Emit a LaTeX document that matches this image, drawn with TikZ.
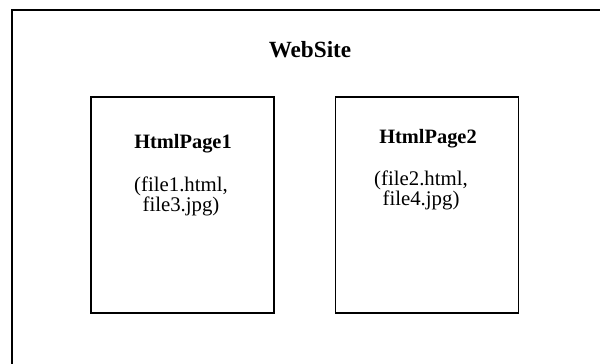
\documentclass[tikz,border=0pt]{standalone}
\usepackage{fontspec}
\setmainfont{Liberation Serif}

\begin{document}
\begin{tikzpicture}[x=0.5pt, y=-0.5pt,
    pagebox/.style={draw, line width=0.55pt, inner sep=0pt,
      minimum width=91.5pt, minimum height=108pt},
    pagetitle/.style={anchor=base, inner sep=0pt,
      font=\fontsize{10.2}{10.2}\selectfont\bfseries},
    pagefiles/.style={anchor=north, inner sep=0pt, align=center,
      font=\fontsize{10.4}{10.4}\selectfont}]

    % picture frame; the site box runs past the right and bottom edges
    \clip (0,0) rectangle (600,364);
    \draw[line width=0.6pt] (12,10) rectangle (620,390);

    % site name
    \node[anchor=base, inner sep=0pt, font=\fontsize{11.6}{11.6}\selectfont\bfseries]
      (site) at (310,57) {WebSite};

    % first page
    \node[pagebox] (page1) at (182.5,205) {};
    \node[pagetitle] (title1) at (183,148) {HtmlPage1};
    \node[pagefiles] (files1) at (181,176) {(file1.html,\\file3.jpg)};

    % second page
    \node[pagebox] (page2) at (427,205) {};
    \node[pagetitle] (title2) at (428,143) {HtmlPage2};
    \node[pagefiles] (files2) at (421,170) {(file2.html,\\file4.jpg)};
\end{tikzpicture}
\end{document}
